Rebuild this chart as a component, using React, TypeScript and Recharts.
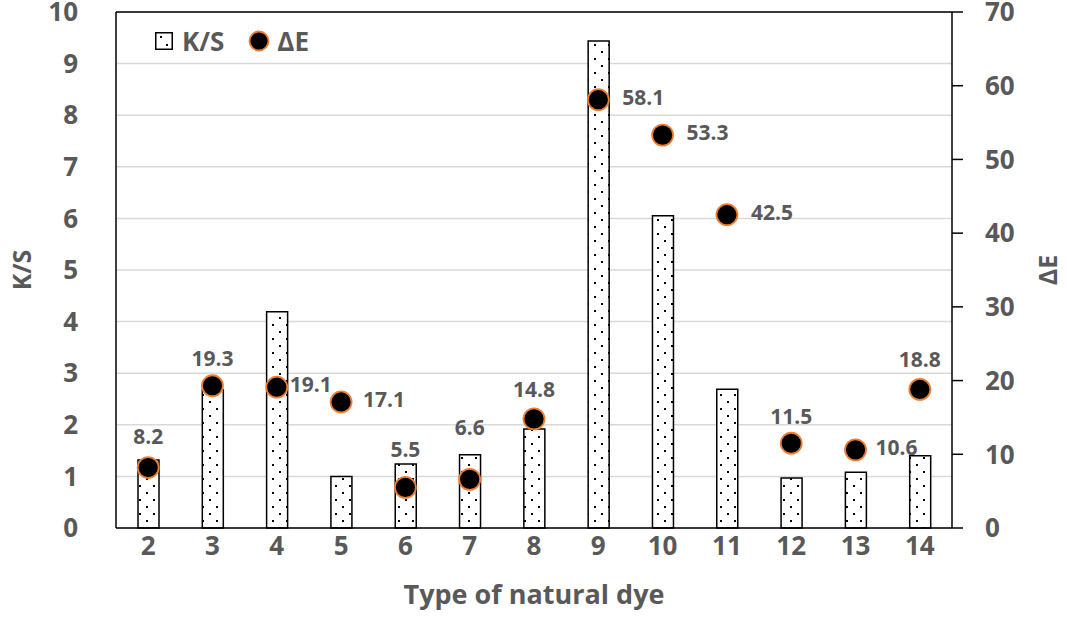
import {
  Bar,
  CartesianGrid,
  ComposedChart,
  ReferenceLine,
  Scatter,
  XAxis,
  YAxis,
} from 'recharts';

// Type of natural dye (x categories)
const dyes = ['2', '3', '4', '5', '6', '7', '8', '9', '10', '11', '12', '13', '14'];
// K/S bars (left axis)
const ksValues = [1.32, 2.68, 4.19, 1.0, 1.24, 1.42, 1.92, 9.44, 6.05, 2.69, 0.97, 1.08, 1.4];
// ΔE points (right axis)
const deValues = [8.2, 19.3, 19.1, 17.1, 5.5, 6.6, 14.8, 58.1, 53.3, 42.5, 11.5, 10.6, 18.8];
// where each ΔE label sits relative to its point, and how far away
const labelSide = ['top', 'top', 'right', 'right', 'top', 'top', 'top', 'right', 'right', 'right', 'top', 'right', 'top'];
const labelGap = [32, 28, 13, 22, 38, 52, 30, 24, 24, 24, 27, 20, 30];

const ksTicks = [0, 1, 2, 3, 4, 5, 6, 7, 8, 9, 10];
const deTicks = [0, 10, 20, 30, 40, 50, 60, 70];

const FONT = '"Open Sans", "Liberation Sans", sans-serif';
const GREY = '#595959';
const ORANGE = '#ED7D31';

const rows = dyes.map((dye, i) => ({
  dye,
  ks: ksValues[i],
  de: deValues[i],
  side: labelSide[i],
  gap: labelGap[i],
}));

const tickStyle = { fontFamily: FONT, fontWeight: 700, fontSize: 26, fill: GREY };

function DePoint(props: any) {
  const { cx, cy, payload } = props;
  if (cx == null || cy == null) return null;
  const right = payload.side === 'right';
  return (
    <g>
      <circle cx={cx} cy={cy} r={10.5} fill="#000" stroke={ORANGE} strokeWidth={1.8} />
      <text
        x={right ? cx + payload.gap : cx}
        y={right ? cy - 3 : cy - payload.gap}
        textAnchor={right ? 'start' : 'middle'}
        dominantBaseline="central"
        fontFamily={FONT}
        fontWeight={700}
        fontSize={21}
        fill={GREY}
      >
        {payload.de.toFixed(1)}
      </text>
    </g>
  );
}

function LegendBox() {
  return (
    <div
      style={{
        position: 'absolute',
        left: 155,
        top: 28,
        display: 'flex',
        alignItems: 'center',
        fontFamily: FONT,
        fontWeight: 700,
        fontSize: 26,
        color: GREY,
        lineHeight: 1,
      }}
    >
      <svg width={18} height={18} style={{ marginRight: 9 }}>
        <rect x={0.75} y={0.75} width={16.5} height={16.5} fill="#fff" stroke="#000" strokeWidth={1.5} />
        <rect x={5} y={4} width={2} height={2} fill="#000" />
        <rect x={11} y={12} width={2} height={2} fill="#000" />
      </svg>
      <span>K/S</span>
      <svg width={22} height={22} style={{ marginLeft: 24, marginRight: 7 }}>
        <circle cx={11} cy={11} r={9.5} fill="#000" stroke={ORANGE} strokeWidth={1.8} />
      </svg>
      <span>ΔE</span>
    </div>
  );
}

export default function App() {
  return (
    <div style={{ position: 'absolute', left: 0, top: 0, width: 1067, height: 631, background: '#fff' }}>
      <ComposedChart width={1067} height={631} data={rows} margin={{ top: 12, right: 0, bottom: 0, left: 0 }}>
        <defs>
          <pattern id="dots" width={14} height={14} patternUnits="userSpaceOnUse">
            <rect width={14} height={14} fill="#fff" />
            <rect x={6} y={2} width={2} height={2} fill="#000" />
            <rect x={13} y={9} width={2} height={2} fill="#000" />
            <rect x={-1} y={9} width={2} height={2} fill="#000" />
          </pattern>
        </defs>
        <CartesianGrid yAxisId="ks" vertical={false} stroke="#d9d9d9" strokeWidth={1.5} />
        <XAxis
          dataKey="dye"
          height={103}
          axisLine={{ stroke: '#000', strokeWidth: 1.5 }}
          tickLine={false}
          tickSize={0}
          tickMargin={9}
          tick={tickStyle}
          interval={0}
          label={{
            value: 'Type of natural dye',
            position: 'insideBottom',
            offset: 27,
            style: { fontFamily: FONT, fontWeight: 700, fontSize: 27, fill: GREY },
          }}
        />
        <YAxis
          yAxisId="ks"
          orientation="left"
          width={116}
          domain={[0, 10]}
          ticks={ksTicks}
          interval={0}
          axisLine={{ stroke: '#000', strokeWidth: 1.5 }}
          tickLine={false}
          tickSize={30}
          tickMargin={8}
          tick={tickStyle}
          label={{
            value: 'K/S',
            angle: -90,
            position: 'insideLeft',
            offset: 22,
            style: { textAnchor: 'middle', fontFamily: FONT, fontWeight: 700, fontSize: 25, fill: GREY },
          }}
        />
        <YAxis
          yAxisId="de"
          orientation="right"
          width={115}
          domain={[0, 70]}
          ticks={deTicks}
          interval={0}
          axisLine={{ stroke: '#000', strokeWidth: 1.5 }}
          tickLine={{ stroke: '#000', strokeWidth: 1.5 }}
          tickSize={11}
          tickMargin={22}
          tick={tickStyle}
          label={{
            value: 'ΔE',
            angle: -90,
            position: 'insideRight',
            offset: 19,
            style: { textAnchor: 'middle', fontFamily: FONT, fontWeight: 700, fontSize: 25, fill: GREY },
          }}
        />
        <ReferenceLine yAxisId="ks" y={10} stroke="#000" strokeWidth={1.5} />
        <Bar
          yAxisId="ks"
          dataKey="ks"
          name="K/S"
          barSize={21}
          fill="url(#dots)"
          stroke="#000"
          strokeWidth={1.5}
          isAnimationActive={false}
        />
        <Scatter
          yAxisId="de"
          dataKey="de"
          name="ΔE"
          shape={<DePoint />}
          isAnimationActive={false}
        />
      </ComposedChart>
      <LegendBox />
    </div>
  );
}
